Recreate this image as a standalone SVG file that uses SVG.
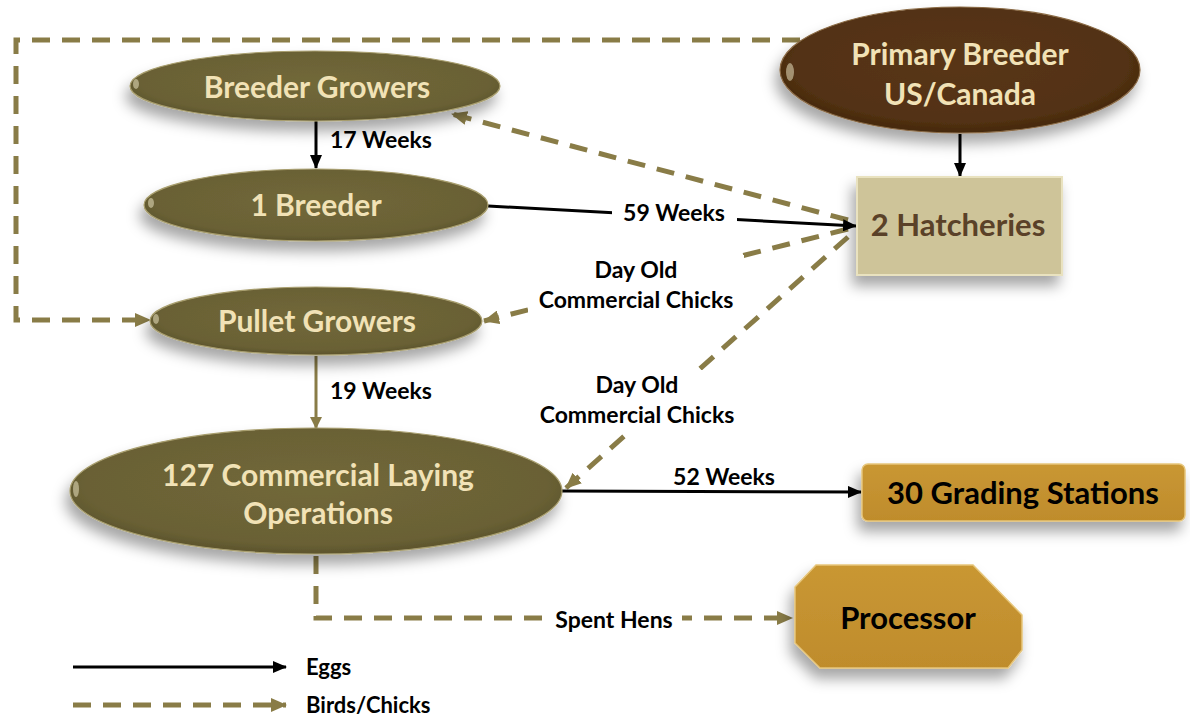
<svg xmlns="http://www.w3.org/2000/svg" width="1190" height="719" viewBox="0 0 1190 719">
  <defs>
    <style>
      .lbl { font-family: Lato, "Liberation Sans", sans-serif; font-weight: bold; font-size: 23px; fill: #000; }
      .leg { font-family: Lato, "Liberation Sans", sans-serif; font-weight: bold; font-size: 22px; fill: #000; }
      .node-txt { font-family: Lato, "Liberation Sans", sans-serif; font-weight: bold; font-size: 30px; fill: #F1E2B6; text-anchor: middle; }
      .box-txt { font-family: Lato, "Liberation Sans", sans-serif; font-weight: bold; font-size: 31px; text-anchor: middle; }
      .egg { fill: none; stroke: #000; stroke-width: 3; marker-end: url(#blackHead); }
      .bird { fill: none; stroke: #897C47; stroke-width: 5; stroke-dasharray: 18 12; marker-end: url(#oliveHead); }
      .olive-node { fill: url(#oliveGrad); stroke: #A89E6E; stroke-width: 1.2; filter: url(#shadow); }
      .gloss { fill: #E8E0C0; opacity: 0.55; }
      .bg { fill: #fff; }
    </style>
    <radialGradient id="oliveGrad" cx="50%" cy="45%" r="55%">
      <stop offset="0" stop-color="#716839"/>
      <stop offset="0.85" stop-color="#6A6135"/>
      <stop offset="1" stop-color="#5C542C"/>
    </radialGradient>
    <radialGradient id="brownGrad" cx="50%" cy="45%" r="55%">
      <stop offset="0" stop-color="#593615"/>
      <stop offset="0.85" stop-color="#523112"/>
      <stop offset="1" stop-color="#44280E"/>
    </radialGradient>
    <linearGradient id="goldGrad" x1="0" y1="0" x2="0" y2="1">
      <stop offset="0" stop-color="#C99733"/>
      <stop offset="1" stop-color="#BF8C2C"/>
    </linearGradient>
    <filter id="shadow" x="-20%" y="-30%" width="140%" height="180%">
      <feDropShadow dx="-4" dy="10" stdDeviation="7" flood-color="#000" flood-opacity="0.35"/>
    </filter>
    <marker id="blackHead" markerUnits="userSpaceOnUse" markerWidth="14" markerHeight="12" refX="13" refY="6" orient="auto">
      <path d="M0,0 L14,6 L0,12 Z" fill="#000"/>
    </marker>
    <marker id="oliveHead" markerUnits="userSpaceOnUse" markerWidth="16" markerHeight="14" refX="15" refY="7" orient="auto">
      <path d="M0,0 L16,7 L0,14 Z" fill="#897C47"/>
    </marker>
    <marker id="oliveSolidHead" markerUnits="userSpaceOnUse" markerWidth="12" markerHeight="12" refX="11" refY="6" orient="auto">
      <path d="M0,0 L12,6 L0,12 Z" fill="#897C47"/>
    </marker>
  </defs>

  <rect width="1190" height="719" fill="#fff"/>

  <!-- connectors -->
  <g id="connectors">
    <!-- bird/chick flows (dashed) -->
    <path class="bird" d="M800,40 H16 V320 H150"/>
    <line class="bird" x1="848" y1="220" x2="452" y2="114"/>
    <line class="bird" x1="848" y1="229" x2="484" y2="321"/>
    <line class="bird" x1="848" y1="237" x2="566" y2="488"/>
    <path class="bird" d="M316,556 V618 H792"/>
    <!-- egg flows (solid) -->
    <line class="egg" x1="316" y1="121" x2="316" y2="168"/>
    <line class="egg" x1="960" y1="134" x2="960" y2="176"/>
    <line class="egg" x1="488" y1="206" x2="856" y2="226"/>
    <line class="egg" x1="562" y1="491" x2="861" y2="492"/>
    <line x1="316" y1="356" x2="316" y2="428" stroke="#897C47" stroke-width="3" marker-end="url(#oliveSolidHead)"/>

    <!-- connector labels -->
    <text class="lbl" x="330" y="148">17 Weeks</text>
    <text class="lbl" x="330" y="399">19 Weeks</text>
    <rect class="bg" x="612" y="198" width="125" height="30"/>
    <text class="lbl" x="674" y="221" text-anchor="middle">59 Weeks</text>
    <rect class="bg" x="528" y="255" width="216" height="60"/>
    <text class="lbl" x="636" y="278" text-anchor="middle">Day Old</text>
    <text class="lbl" x="636" y="308" text-anchor="middle">Commercial Chicks</text>
    <rect class="bg" x="528" y="370" width="216" height="62"/>
    <text class="lbl" x="637" y="393" text-anchor="middle">Day Old</text>
    <text class="lbl" x="637" y="423" text-anchor="middle">Commercial Chicks</text>
    <text class="lbl" x="724" y="485" text-anchor="middle">52 Weeks</text>
    <rect class="bg" x="546" y="604" width="136" height="30"/>
    <text class="lbl" x="614" y="628" text-anchor="middle">Spent Hens</text>
  </g>

  <!-- nodes -->
  <g id="primary-breeder">
    <ellipse cx="960" cy="70" rx="180" ry="63" fill="url(#brownGrad)" stroke="#8A6A45" stroke-width="1.2" filter="url(#shadow)"/>
    <ellipse class="gloss" cx="790" cy="72" rx="4" ry="9"/>
    <text class="node-txt" x="960" y="65">Primary Breeder</text>
    <text class="node-txt" x="960" y="105">US/Canada</text>
  </g>
  <g id="breeder-growers">
    <ellipse class="olive-node" cx="315" cy="86" rx="185" ry="35"/>
    <ellipse class="gloss" cx="136" cy="84" rx="3" ry="5"/>
    <text class="node-txt" x="317" y="98">Breeder Growers</text>
  </g>
  <g id="breeder">
    <ellipse class="olive-node" cx="316" cy="205" rx="172" ry="36"/>
    <ellipse class="gloss" cx="151" cy="203" rx="3" ry="5"/>
    <text class="node-txt" x="316" y="216">1 Breeder</text>
  </g>
  <g id="pullet-growers">
    <ellipse class="olive-node" cx="316" cy="321" rx="166" ry="34"/>
    <ellipse class="gloss" cx="156" cy="319" rx="3" ry="5"/>
    <text class="node-txt" x="317" y="332">Pullet Growers</text>
  </g>
  <g id="laying-operations">
    <ellipse class="olive-node" cx="316" cy="491" rx="246" ry="63"/>
    <ellipse class="gloss" cx="76" cy="489" rx="3" ry="8"/>
    <text class="node-txt" x="318" y="486">127 Commercial Laying</text>
    <text class="node-txt" x="318" y="524">Operations</text>
  </g>
  <g id="hatcheries">
    <rect x="857" y="177" width="205" height="98" fill="#CEC499" stroke="#E9E2BF" stroke-width="2" filter="url(#shadow)"/>
    <text class="box-txt" x="958" y="236" fill="#5A4128">2 Hatcheries</text>
  </g>
  <g id="grading-stations">
    <rect x="862" y="464" width="323" height="57" rx="6" fill="url(#goldGrad)" stroke="#E6C57A" stroke-width="1.5" filter="url(#shadow)"/>
    <text class="box-txt" x="1023" y="504" fill="#000">30 Grading Stations</text>
  </g>
  <g id="processor">
    <polygon points="795,587 816,565 973,565 1022,615 1022,650 1008,668 820,668 795,643" fill="url(#goldGrad)" stroke="#E6C57A" stroke-width="1.5" filter="url(#shadow)"/>
    <text class="box-txt" x="908" y="629" fill="#000">Processor</text>
  </g>

  <!-- legend -->
  <g id="legend">
    <line class="egg" x1="73" y1="667" x2="286" y2="667"/>
    <text class="leg" x="306" y="675">Eggs</text>
    <line class="bird" x1="73" y1="705" x2="286" y2="705"/>
    <text class="leg" x="306" y="713">Birds/Chicks</text>
  </g>
</svg>
